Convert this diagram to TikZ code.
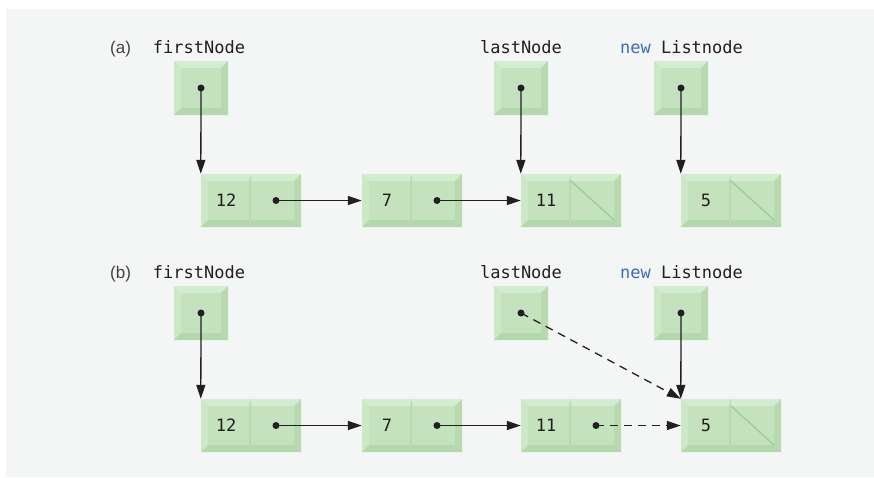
\documentclass[tikz,border=0pt]{standalone}
\usepackage{fontspec}
\setmonofont{DejaVu Sans Mono}
\newfontfamily\labfont{Liberation Sans}
\usetikzlibrary{arrows.meta}
\definecolor{bg}{HTML}{F4F5F5}
\definecolor{gin}{HTML}{C4E2BD}
\definecolor{gtop}{HTML}{D4ECCF}
\definecolor{gleft}{HTML}{CDE8C7}
\definecolor{gright}{HTML}{B7DAAF}
\definecolor{gbot}{HTML}{B3D8AB}
\definecolor{gdiag}{HTML}{99CC8F}
\definecolor{ink}{HTML}{231F20}
\definecolor{kw}{HTML}{3D6CB4}
\tikzset{
  bev/.code args={#1/#2/#3/#4}{\def\bvl{#1}\def\bvt{#2}\def\bvr{#3}\def\bvb{#4}},
  nodiag/.code={\def\bvdiag{0}},
  nullcell/.code={\def\bvdiag{1}},
  bevelbox/.style={inner sep=0pt, fill=gin, text=ink, bev=7/7/7/7, nodiag,
    font=\ttfamily\fontsize{17}{20}\selectfont,
    path picture={
      \coordinate (bNW) at (path picture bounding box.north west);
      \coordinate (bNE) at (path picture bounding box.north east);
      \coordinate (bSW) at (path picture bounding box.south west);
      \coordinate (bSE) at (path picture bounding box.south east);
      \coordinate (iNW) at ([shift={(\bvl pt,-\bvt pt)}]bNW);
      \coordinate (iNE) at ([shift={(-\bvr pt,-\bvt pt)}]bNE);
      \coordinate (iSW) at ([shift={(\bvl pt,\bvb pt)}]bSW);
      \coordinate (iSE) at ([shift={(-\bvr pt,\bvb pt)}]bSE);
      \fill[gtop] (bNW) -- (bNE) -- (iNE) -- (iNW) -- cycle;
      \fill[gleft] (bNW) -- (iNW) -- (iSW) -- (bSW) -- cycle;
      \fill[gright] (bNE) -- (bSE) -- (iSE) -- (iNE) -- cycle;
      \fill[gbot] (bSW) -- (iSW) -- (iSE) -- (bSE) -- cycle;
      \ifnum\bvdiag=1 \draw[gdiag, line width=1.2pt] (iNW) -- (iSE); \fi
    }},
  ptr/.style={bevelbox, minimum width=54pt, minimum height=54pt},
  cellA/.style={bevelbox, minimum width=50pt, minimum height=53pt, bev=7/7/2/7},
  cellB/.style={bevelbox, minimum width=50pt, minimum height=53pt, bev=0/7/7/7},
  arr/.style={draw=ink, line width=1.3pt, -{Triangle[length=14pt,width=9pt]}},
  dsh/.style={arr, dash pattern=on 8pt off 6pt},
  dotc/.style={fill=ink},
  code/.style={font=\ttfamily\fontsize{17}{20}\selectfont, text=ink, inner sep=0pt},
  lab/.style={font=\labfont\fontsize{17}{20}\selectfont, text=ink!85, inner sep=0pt},
}
\begin{document}
\begin{tikzpicture}[x=1pt, y=-1pt]
\useasboundingbox (0,0) rectangle (874,477);
\fill[bg] (6,9) rectangle (874,477);

% ---------- (a) ----------
\node[lab, anchor=base west] (la) at (110,53) {(a)};
\node[code, anchor=base] (tfa) at (199,53) {firstNode};
\node[code, anchor=base] (tla) at (521,53) {lastNode};
\node[code, anchor=base] (tna) at (681.5,53) {\textcolor{kw}{new} Listnode};

\node[ptr] (fpa) at (201,88) {};
\node[ptr] (lpa) at (521,88) {};
\node[ptr] (npa) at (681,88) {};

\node[cellA] (c12a) at (226,200.5) {12};
\node[cellB] (c12pa) at (276,200.5) {};
\node[cellA] (c7a) at (387,200.5) {7};
\node[cellB] (c7pa) at (437,200.5) {};
\node[cellA] (c11a) at (546,200.5) {11};
\node[cellB, nullcell] (c11pa) at (596,200.5) {};
\node[cellA] (c5a) at (706,200.5) {5};
\node[cellB, nullcell] (c5pa) at (756,200.5) {};

\draw[arr] (fpa.center) -- (c12a.north west);
\draw[arr] (lpa.center) -- (c11a.north west);
\draw[arr] (npa.center) -- (c5a.north west);
\draw[arr] (c12pa.center) -- (c7a.west);
\draw[arr] (c7pa.center) -- (c11a.west);
\fill[dotc] (fpa.center) circle[radius=3.5pt];
\fill[dotc] (lpa.center) circle[radius=3.5pt];
\fill[dotc] (npa.center) circle[radius=3.5pt];
\fill[dotc] (c12pa.center) circle[radius=3.5pt];
\fill[dotc] (c7pa.center) circle[radius=3.5pt];

% ---------- (b) ----------
\node[lab, anchor=base west] (lb) at (110,278) {(b)};
\node[code, anchor=base] (tfb) at (199,278) {firstNode};
\node[code, anchor=base] (tlb) at (521,278) {lastNode};
\node[code, anchor=base] (tnb) at (681.5,278) {\textcolor{kw}{new} Listnode};

\node[ptr] (fpb) at (201,313) {};
\node[ptr] (lpb) at (521,313) {};
\node[ptr] (npb) at (681,313) {};

\node[cellA] (c12b) at (226,425.5) {12};
\node[cellB] (c12pb) at (276,425.5) {};
\node[cellA] (c7b) at (387,425.5) {7};
\node[cellB] (c7pb) at (437,425.5) {};
\node[cellA] (c11b) at (546,425.5) {11};
\node[cellB] (c11pb) at (596,425.5) {};
\node[cellA] (c5b) at (706,425.5) {5};
\node[cellB, nullcell] (c5pb) at (756,425.5) {};

\draw[arr] (fpb.center) -- (c12b.north west);
\draw[dsh] (lpb.center) -- (c5b.north west);
\draw[arr] (npb.center) -- (c5b.north west);
\draw[arr] (c12pb.center) -- (c7b.west);
\draw[arr] (c7pb.center) -- (c11b.west);
\draw[dsh] (c11pb.center) -- (c5b.west);
\fill[dotc] (fpb.center) circle[radius=3.5pt];
\fill[dotc] (lpb.center) circle[radius=3.5pt];
\fill[dotc] (npb.center) circle[radius=3.5pt];
\fill[dotc] (c12pb.center) circle[radius=3.5pt];
\fill[dotc] (c7pb.center) circle[radius=3.5pt];
\fill[dotc] (c11pb.center) circle[radius=3.5pt];
\end{tikzpicture}
\end{document}
